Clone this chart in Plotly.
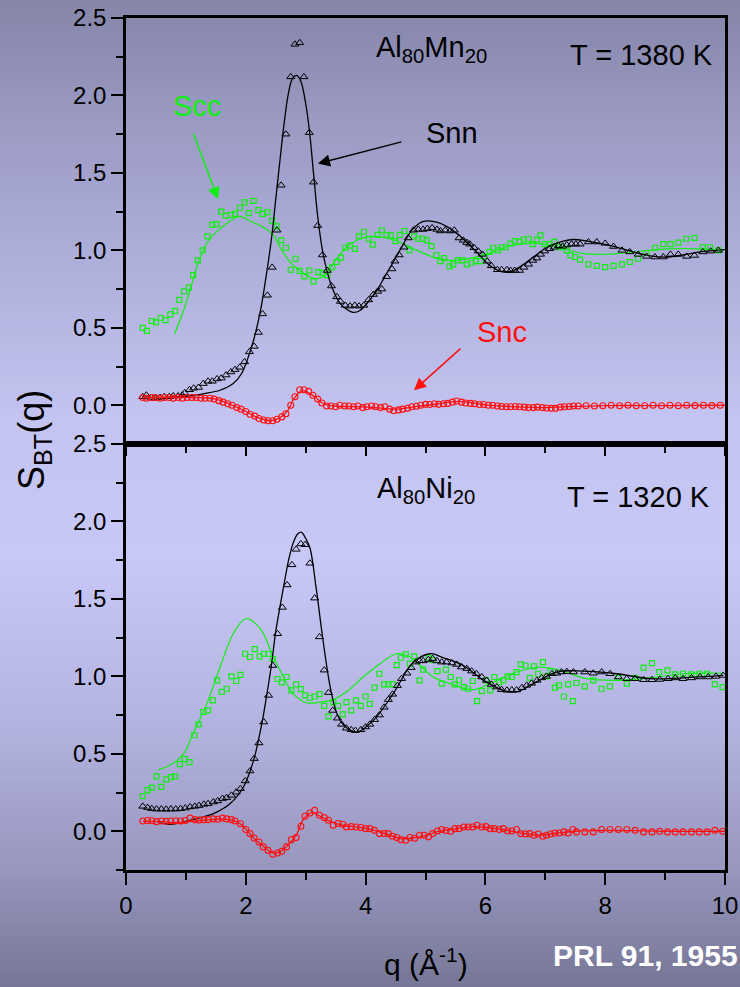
import plotly.graph_objects as go

# ---------------- data: top panel (Al80Mn20, T = 1380 K) ----------------
top_nn_q = [0.28,0.34,0.42,0.49,0.57,0.64,0.72,0.79,0.87,0.94,0.98,1.06,1.13,1.21,1.29,1.37,1.44,1.52,1.59,1.67,1.75,1.82,1.90,1.98,2.06,2.14,2.21,2.28,2.36,2.44,2.52,2.59,2.67,2.75,2.82,2.90,2.97,3.06,3.13,3.20,3.28,3.36,3.43,3.52,3.58,3.66,3.74,3.82,3.89,3.97,4.05,4.13,4.20,4.27,4.35,4.44,4.49,4.56,4.64,4.71,4.80,4.88,4.96,5.03,5.11,5.19,5.25,5.33,5.41,5.48,5.56,5.63,5.69,5.74,5.81,5.88,5.95,6.03,6.10,6.20,6.27,6.36,6.42,6.49,6.57,6.64,6.72,6.79,6.86,6.92,6.99,7.07,7.15,7.22,7.29,7.36,7.44,7.51,7.58,7.72,7.86,8.00,8.14,8.28,8.41,8.55,8.69,8.83,8.97,9.09,9.22,9.36,9.49,9.63,9.76,9.89]
top_nn_s = [0.055,0.065,0.05,0.045,0.05,0.055,0.055,0.06,0.06,0.065,0.08,0.10,0.11,0.115,0.14,0.155,0.155,0.17,0.175,0.195,0.215,0.23,0.245,0.28,0.345,0.38,0.47,0.59,0.71,0.89,1.13,1.42,1.75,2.12,2.33,2.34,2.12,1.76,1.44,1.16,0.97,0.87,0.77,0.70,0.67,0.645,0.64,0.645,0.64,0.645,0.68,0.715,0.735,0.75,0.83,0.88,0.93,0.97,1.02,1.08,1.13,1.135,1.135,1.14,1.145,1.135,1.125,1.13,1.125,1.13,1.08,1.065,1.05,1.04,1.017,0.995,0.974,0.93,0.90,0.875,0.875,0.875,0.87,0.87,0.87,0.89,0.91,0.935,0.95,0.974,0.995,1.01,1.02,1.03,1.026,1.035,1.04,1.04,1.04,1.054,1.054,1.045,1.025,1.0,0.99,0.974,0.961,0.957,0.957,0.974,0.974,0.961,0.967,0.99,0.995,1.0]
top_nn_line_q = [0.28,0.6,1.05,1.3,1.57,1.79,1.93,2.04,2.13,2.24,2.35,2.43,2.50,2.57,2.64,2.71,2.78,2.85,2.92,2.99,3.06,3.13,3.20,3.28,3.36,3.45,3.57,3.70,3.79,3.90,4.07,4.20,4.35,4.50,4.63,4.75,4.85,4.95,5.05,5.20,5.35,5.55,5.80,6.08,6.25,6.41,6.60,6.80,7.08,7.30,7.47,7.70,7.91,8.20,8.47,8.75,9.03,9.30,9.58,10.0]
top_nn_line_s = [0.05,0.05,0.06,0.075,0.097,0.14,0.205,0.31,0.42,0.60,0.86,1.08,1.33,1.58,1.82,2.01,2.11,2.13,2.09,1.97,1.78,1.50,1.22,1.0,0.86,0.75,0.66,0.615,0.60,0.61,0.68,0.75,0.85,0.95,1.04,1.12,1.16,1.185,1.19,1.18,1.155,1.10,1.01,0.90,0.865,0.86,0.90,0.957,1.03,1.06,1.07,1.06,1.045,1.02,0.99,0.965,0.957,0.97,0.99,1.005]

top_cc_q = [0.28,0.35,0.43,0.50,0.58,0.66,0.74,0.82,0.89,0.97,1.05,1.12,1.20,1.28,1.36,1.44,1.51,1.59,1.67,1.75,1.82,1.90,1.98,2.05,2.13,2.21,2.28,2.36,2.44,2.52,2.59,2.67,2.75,2.83,2.90,2.98,3.06,3.13,3.21,3.28,3.36,3.44,3.52,3.59,3.66,3.74,3.82,3.89,3.97,4.05,4.12,4.20,4.27,4.35,4.42,4.50,4.57,4.65,4.73,4.81,4.88,4.95,5.02,5.10,5.18,5.25,5.31,5.40,5.46,5.54,5.62,5.69,5.77,5.84,5.92,5.99,6.07,6.13,6.21,6.27,6.34,6.42,6.49,6.57,6.64,6.72,6.79,6.86,6.92,6.99,7.07,7.15,7.22,7.29,7.36,7.42,7.50,7.58,7.72,7.86,8.00,8.14,8.28,8.41,8.55,8.69,8.83,8.97,9.09,9.22,9.35,9.49,9.63,9.75,9.89]
top_cc_s = [0.50,0.48,0.544,0.535,0.565,0.55,0.587,0.61,0.68,0.735,0.76,0.84,0.935,1.0,1.09,1.165,1.17,1.25,1.224,1.23,1.235,1.275,1.31,1.24,1.32,1.26,1.235,1.245,1.19,1.155,1.065,1.017,0.875,0.946,0.867,0.832,0.87,0.80,0.86,0.855,0.84,0.89,0.925,0.953,1.017,1.03,1.01,1.09,1.12,1.075,1.037,1.10,1.13,1.10,1.097,1.06,1.10,1.125,1.0,1.09,1.075,1.075,1.065,1.028,0.968,0.93,0.95,0.897,0.91,0.935,0.935,0.91,0.92,0.93,0.93,0.961,0.99,1.017,1.0,1.02,1.02,1.043,1.06,1.055,1.07,1.075,1.04,1.07,1.097,1.04,1.04,1.055,1.02,1.02,1.0,0.968,0.957,0.94,0.91,0.90,0.892,0.90,0.91,0.925,0.946,0.983,1.017,1.04,1.04,1.05,1.075,1.08,1.02,1.02,1.0]
top_cc_line_q = [0.81,0.96,1.10,1.24,1.40,1.57,1.74,1.90,2.07,2.29,2.46,2.57,2.74,2.90,3.13,3.29,3.46,3.68,3.91,4.13,4.35,4.57,4.80,5.13,5.41,5.97,6.41,6.80,7.13,7.63,8.02,8.47,9.03,9.58,9.97]
top_cc_line_s = [0.46,0.61,0.785,0.957,1.075,1.14,1.19,1.22,1.19,1.15,1.10,1.02,0.925,0.87,0.82,0.83,0.914,1.02,1.075,1.09,1.08,1.054,1.01,0.957,0.935,0.968,1.03,1.047,1.03,0.98,0.975,0.99,1.01,1.01,1.0]

top_nc_q = [0.28,0.34,0.42,0.49,0.57,0.64,0.72,0.79,0.87,0.94,1.02,1.10,1.17,1.25,1.32,1.40,1.47,1.55,1.62,1.70,1.77,1.85,1.92,2.00,2.07,2.15,2.22,2.30,2.37,2.45,2.52,2.60,2.67,2.75,2.82,2.90,2.97,3.05,3.12,3.20,3.27,3.35,3.42,3.50,3.57,3.65,3.72,3.80,3.87,3.95,4.02,4.10,4.17,4.25,4.32,4.40,4.47,4.55,4.62,4.70,4.77,4.85,4.92,5.00,5.07,5.15,5.22,5.30,5.37,5.45,5.52,5.60,5.67,5.75,5.82,5.90,5.97,6.05,6.12,6.20,6.27,6.35,6.42,6.50,6.57,6.65,6.72,6.80,6.87,6.95,7.02,7.10,7.17,7.25,7.32,7.40,7.47,7.55,7.68,7.82,7.96,8.10,8.24,8.38,8.52,8.66,8.80,8.94,9.08,9.22,9.36,9.50,9.64,9.78,9.92]
top_nc_s = [0.05,0.045,0.05,0.05,0.045,0.05,0.05,0.045,0.05,0.045,0.05,0.05,0.05,0.045,0.045,0.045,0.04,0.03,0.02,0.01,0.0,-0.015,-0.025,-0.04,-0.058,-0.07,-0.085,-0.095,-0.10,-0.10,-0.09,-0.075,-0.055,0.0,0.055,0.10,0.10,0.09,0.065,0.04,0.015,-0.005,-0.005,-0.01,0.0,-0.005,-0.005,-0.01,-0.005,-0.015,-0.01,-0.005,-0.01,-0.015,-0.01,-0.025,-0.035,-0.03,-0.025,-0.02,-0.01,-0.006,0.0,0.006,0.005,0.01,0.006,0.01,0.012,0.02,0.028,0.02,0.015,0.012,0.01,0.005,0.005,0.0,0.0,-0.005,-0.008,-0.01,-0.01,-0.008,-0.01,-0.012,-0.015,-0.015,-0.012,-0.015,-0.018,-0.02,-0.02,-0.012,-0.01,-0.008,-0.005,-0.005,-0.003,-0.005,-0.003,0.0,-0.003,0.0,-0.003,-0.003,0.0,-0.003,0.0,-0.003,0.0,-0.002,0.0,-0.002,0.0]
top_nc_line_q = [0.28,1.2,1.5,1.75,2.0,2.2,2.4,2.55,2.7,2.8,2.92,3.0,3.15,3.3,3.5,4.0,4.5,4.8,5.2,5.55,6.0,6.5,7.0,7.3,8.0,9.0,10.0]
top_nc_line_s = [0.05,0.05,0.04,0.005,-0.04,-0.08,-0.10,-0.085,-0.035,0.04,0.09,0.09,0.055,0.01,-0.005,-0.01,-0.025,-0.01,0.008,0.025,0.003,-0.01,-0.015,-0.01,-0.002,-0.002,0.0]

# ---------------- data: bottom panel (Al80Ni20, T = 1320 K) ----------------
bot_nn_q = [0.28,0.36,0.43,0.51,0.59,0.67,0.75,0.83,0.91,0.99,1.07,1.15,1.22,1.30,1.37,1.46,1.53,1.61,1.68,1.76,1.84,1.91,1.99,2.07,2.14,2.22,2.30,2.38,2.45,2.53,2.61,2.69,2.77,2.84,2.92,2.99,3.07,3.15,3.23,3.31,3.38,3.45,3.53,3.60,3.68,3.76,3.83,3.92,4.00,4.07,4.15,4.23,4.31,4.38,4.45,4.53,4.60,4.69,4.76,4.84,4.90,4.96,5.05,5.12,5.19,5.27,5.35,5.44,5.52,5.60,5.69,5.77,5.85,5.94,6.02,6.10,6.19,6.27,6.36,6.44,6.52,6.61,6.69,6.77,6.86,6.94,7.02,7.11,7.19,7.27,7.36,7.47,7.66,7.80,7.94,8.08,8.22,8.36,8.50,8.64,8.78,8.91,9.05,9.17,9.30,9.44,9.58,9.72,9.85,9.97]
bot_nn_s = [0.161,0.153,0.146,0.143,0.143,0.142,0.143,0.143,0.146,0.15,0.157,0.161,0.166,0.174,0.178,0.189,0.196,0.211,0.217,0.232,0.252,0.275,0.325,0.389,0.469,0.57,0.705,0.877,1.07,1.275,1.445,1.59,1.72,1.82,1.855,1.85,1.73,1.505,1.255,1.04,0.895,0.78,0.73,0.69,0.665,0.655,0.65,0.655,0.673,0.69,0.72,0.75,0.80,0.85,0.884,0.94,0.985,1.02,1.056,1.092,1.10,1.10,1.108,1.114,1.10,1.092,1.092,1.086,1.077,1.06,1.05,1.034,1.017,0.996,0.974,0.948,0.931,0.914,0.91,0.912,0.912,0.927,0.942,0.955,0.974,0.99,1.0,1.017,1.02,1.028,1.03,1.028,1.028,1.02,1.028,1.017,0.996,0.985,0.985,0.978,0.978,0.98,0.985,0.99,0.985,0.99,0.996,0.996,1.0,1.006]
bot_nn_line_q = [0.57,0.73,0.96,1.18,1.46,1.74,1.96,2.13,2.27,2.35,2.43,2.50,2.58,2.65,2.72,2.80,2.87,2.93,3.00,3.07,3.18,3.29,3.41,3.52,3.65,3.85,4.13,4.46,4.80,5.08,5.30,5.63,5.97,6.30,6.52,6.80,7.19,7.63,8.19,8.75,9.30,9.97]
bot_nn_line_s = [0.054,0.045,0.06,0.082,0.114,0.179,0.286,0.458,0.70,0.88,1.08,1.29,1.47,1.62,1.76,1.87,1.92,1.93,1.89,1.83,1.555,1.23,0.93,0.76,0.68,0.64,0.716,0.888,1.092,1.146,1.12,1.07,0.974,0.91,0.90,0.953,1.028,1.034,1.017,0.985,0.99,1.006]

bot_cc_q = [0.28,0.36,0.43,0.51,0.59,0.67,0.75,0.82,0.90,0.98,1.06,1.14,1.21,1.29,1.37,1.45,1.52,1.60,1.68,1.76,1.84,1.91,1.99,2.07,2.15,2.23,2.30,2.38,2.45,2.53,2.60,2.68,2.76,2.84,2.92,2.99,3.07,3.15,3.23,3.31,3.38,3.46,3.54,3.62,3.68,3.76,3.84,3.92,4.00,4.07,4.15,4.23,4.31,4.38,4.45,4.52,4.59,4.67,4.74,4.81,4.90,4.96,5.05,5.12,5.20,5.27,5.34,5.42,5.49,5.56,5.64,5.71,5.79,5.86,5.94,6.01,6.08,6.15,6.23,6.30,6.37,6.44,6.52,6.59,6.67,6.74,6.81,6.88,6.96,7.02,7.09,7.16,7.23,7.31,7.38,7.46,7.52,7.66,7.80,7.94,8.08,8.22,8.36,8.50,8.64,8.78,8.90,9.04,9.17,9.30,9.44,9.57,9.70,9.83,9.96]
bot_cc_s = [0.226,0.265,0.282,0.355,0.286,0.335,0.35,0.355,0.434,0.466,0.447,0.62,0.69,0.77,0.78,0.845,0.974,0.90,0.92,1.0,0.97,1.01,1.146,1.125,1.176,1.129,1.146,1.146,1.112,0.983,0.961,0.996,0.91,0.948,0.918,0.877,0.862,0.87,0.885,0.81,0.742,0.834,0.81,0.755,0.834,0.78,0.845,0.81,0.87,0.823,0.927,1.017,0.948,0.948,0.95,1.073,1.12,1.142,1.082,1.129,0.974,1.043,1.12,1.105,1.034,0.953,1.043,0.996,0.948,0.975,0.931,0.92,0.97,0.84,0.905,0.974,0.91,0.996,0.963,0.975,1.0,0.996,1.028,1.077,1.07,0.99,1.065,1.017,1.092,1.0,1.034,0.927,0.942,0.87,0.948,0.84,0.957,0.935,0.974,0.92,0.935,0.99,0.953,0.99,1.056,1.086,1.028,1.039,1.013,1.017,1.013,1.017,1.017,0.948,0.931]
bot_cc_line_q = [0.54,0.73,0.96,1.12,1.35,1.57,1.79,2.0,2.24,2.46,2.63,2.79,3.02,3.24,3.46,3.68,3.96,4.24,4.52,4.74,4.91,5.13,5.41,5.80,6.13,6.52,6.91,7.25,7.69,8.19,8.75,9.30,9.97]
bot_cc_line_s = [0.398,0.426,0.50,0.63,0.824,1.06,1.275,1.372,1.308,1.125,0.996,0.888,0.828,0.834,0.85,0.90,0.996,1.082,1.146,1.125,1.07,0.996,0.953,0.914,0.963,1.028,1.06,1.039,0.985,0.974,0.99,1.017,1.02]

bot_nc_q = [0.28,0.36,0.43,0.51,0.59,0.67,0.75,0.83,0.91,0.99,1.07,1.15,1.22,1.30,1.37,1.46,1.53,1.61,1.68,1.76,1.82,1.91,2.00,2.07,2.14,2.22,2.29,2.37,2.45,2.53,2.60,2.68,2.76,2.84,2.92,2.99,3.07,3.15,3.23,3.31,3.38,3.46,3.54,3.62,3.68,3.76,3.84,3.92,4.00,4.07,4.15,4.23,4.31,4.38,4.45,4.52,4.59,4.67,4.74,4.82,4.90,4.98,5.05,5.12,5.20,5.27,5.34,5.42,5.49,5.56,5.64,5.71,5.79,5.86,5.94,6.01,6.08,6.15,6.23,6.30,6.37,6.44,6.52,6.59,6.67,6.74,6.81,6.88,6.96,7.02,7.09,7.16,7.23,7.31,7.38,7.46,7.52,7.66,7.80,7.94,8.08,8.22,8.36,8.50,8.64,8.78,8.91,9.04,9.17,9.30,9.44,9.57,9.70,9.83,9.96]
bot_nc_s = [0.066,0.07,0.068,0.062,0.066,0.064,0.066,0.068,0.066,0.07,0.085,0.075,0.072,0.075,0.075,0.08,0.078,0.085,0.08,0.075,0.066,0.049,0.011,-0.015,-0.043,-0.069,-0.101,-0.123,-0.148,-0.14,-0.129,-0.101,-0.054,-0.041,0.032,0.097,0.118,0.135,0.103,0.088,0.071,0.039,0.05,0.045,0.028,0.03,0.028,0.024,0.017,0.017,0.006,-0.015,-0.015,-0.015,-0.032,-0.04,-0.054,-0.058,-0.04,-0.045,-0.026,-0.026,-0.036,-0.015,0.002,0.011,0.005,0.0,0.017,0.017,0.028,0.028,0.028,0.039,0.028,0.03,0.017,0.017,0.011,0.017,0.002,0.002,0.011,-0.015,-0.018,-0.015,-0.026,-0.018,-0.032,-0.026,-0.018,-0.011,-0.011,-0.004,-0.011,0.011,-0.004,-0.004,-0.004,0.011,0.011,0.011,0.011,0.006,-0.004,-0.004,0.0,-0.004,-0.004,-0.004,-0.004,-0.004,-0.004,0.006,0.0]
bot_nc_line_q = [0.28,0.6,0.8,1.0,1.3,1.6,1.8,1.95,2.1,2.3,2.45,2.55,2.7,2.85,2.95,3.1,3.2,3.4,3.6,3.8,4.0,4.2,4.4,4.6,4.75,5.0,5.2,5.5,5.8,6.0,6.3,6.6,6.9,7.2,7.5,8.0,8.5,9.0,10.0]
bot_nc_line_s = [0.066,0.062,0.055,0.06,0.072,0.078,0.068,0.035,-0.03,-0.10,-0.14,-0.135,-0.09,-0.02,0.07,0.12,0.105,0.065,0.04,0.03,0.018,0.0,-0.025,-0.048,-0.045,-0.028,-0.003,0.015,0.03,0.025,0.01,-0.012,-0.025,-0.012,0.0,0.006,0.004,0.0,0.0]

x_ticks = [0, 2, 4, 6, 8, 10]
y_ticks = [0.0, 0.5, 1.0, 1.5, 2.0, 2.5]

# ---------------- styling ----------------
FONT = "Liberation Sans, Arial, sans-serif"
GREEN = "#11ee11"
RED = "#ff1010"
BLACK = "#000000"

fig = go.Figure()

def add_panel(xa, ya, nn_q, nn_s, nnl_q, nnl_s, cc_q, cc_s, ccl_q, ccl_s, nc_q, nc_s, ncl_q, ncl_s):
    fig.add_trace(go.Scatter(x=cc_q, y=cc_s, mode="markers", xaxis=xa, yaxis=ya,
                             marker=dict(symbol="square-open", size=5, color=GREEN, line=dict(width=1.2))))
    fig.add_trace(go.Scatter(x=ccl_q, y=ccl_s, mode="lines", xaxis=xa, yaxis=ya,
                             line=dict(color=GREEN, width=1.2, shape="spline")))
    fig.add_trace(go.Scatter(x=nn_q, y=nn_s, mode="markers", xaxis=xa, yaxis=ya,
                             marker=dict(symbol="triangle-up-open", size=7, color=BLACK, line=dict(width=1))))
    fig.add_trace(go.Scatter(x=nnl_q, y=nnl_s, mode="lines", xaxis=xa, yaxis=ya,
                             line=dict(color=BLACK, width=1.3, shape="spline")))
    fig.add_trace(go.Scatter(x=ncl_q, y=ncl_s, mode="lines", xaxis=xa, yaxis=ya,
                             line=dict(color=RED, width=1.3, shape="spline")))
    fig.add_trace(go.Scatter(x=nc_q, y=nc_s, mode="markers", xaxis=xa, yaxis=ya,
                             marker=dict(symbol="circle-open", size=6, color=RED, line=dict(width=1.1))))

add_panel("x2", "y2", top_nn_q, top_nn_s, top_nn_line_q, top_nn_line_s,
          top_cc_q, top_cc_s, top_cc_line_q, top_cc_line_s,
          top_nc_q, top_nc_s, top_nc_line_q, top_nc_line_s)
add_panel("x", "y", bot_nn_q, bot_nn_s, bot_nn_line_q, bot_nn_line_s,
          bot_cc_q, bot_cc_s, bot_cc_line_q, bot_cc_line_s,
          bot_nc_q, bot_nc_s, bot_nc_line_q, bot_nc_line_s)

axis_common = dict(showgrid=False, zeroline=False, showline=True, linecolor=BLACK,
                   linewidth=2.5, mirror=True, ticks="outside", ticklen=12, tickwidth=2,
                   tickcolor=BLACK, automargin=False,
                   tickfont=dict(family=FONT, size=24, color=BLACK))

xaxis_b = dict(axis_common, domain=[0, 1], anchor="y", range=[0, 10],
               tickvals=x_ticks, ticktext=[str(v) for v in x_ticks],
               minor=dict(dtick=1, tick0=0, ticklen=7, tickwidth=2, tickcolor=BLACK, ticks="outside"))
xaxis_t = dict(axis_common, domain=[0, 1], anchor="y2", range=[0, 10], showticklabels=False,
               tickvals=x_ticks, ticklen=9,
               minor=dict(dtick=1, tick0=0, ticklen=6, tickwidth=2, tickcolor=BLACK, ticks="outside"))
yaxis_b = dict(axis_common, domain=[0, 0.5], anchor="x", range=[-0.25, 2.5],
               tickvals=y_ticks, ticktext=["%.1f" % v for v in y_ticks],
               minor=dict(dtick=0.25, tick0=0, ticklen=7, tickwidth=2, tickcolor=BLACK, ticks="outside"))
yaxis_t = dict(axis_common, domain=[0.5, 1], anchor="x2", range=[-0.25, 2.5],
               tickvals=y_ticks, ticktext=["%.1f" % v for v in y_ticks],
               minor=dict(dtick=0.25, tick0=0, ticklen=7, tickwidth=2, tickcolor=BLACK, ticks="outside"))

# ---------------- background gradient (decoration) ----------------
W, H = 740, 987
ML, MR, MT, MB = 126, 15, 18, 117
PH = H - MT - MB
PW = W - ML - MR
stops = [(0, (134, 134, 170)), (200, (166, 166, 210)), (420, (196, 196, 242)),
         (560, (200, 200, 248)), (720, (180, 180, 226)), (870, (150, 150, 190)),
         (987, (118, 118, 150))]

def col_at(py):
    for (a, ca), (b, cb) in zip(stops[:-1], stops[1:]):
        if a <= py <= b:
            t = (py - a) / (b - a)
            return tuple(int(round(ca[i] + (cb[i] - ca[i]) * t)) for i in range(3))
    return stops[-1][1]

shapes = []
step = 6
for py in range(0, H, step):
    c = col_at(py + step / 2)
    y0 = (H - MB - (py + step + 1)) / PH
    y1 = (H - MB - py) / PH
    shapes.append(dict(type="rect", xref="paper", yref="paper", x0=-0.3, x1=1.1,
                       y0=y0, y1=y1, fillcolor="rgb(%d,%d,%d)" % c, line=dict(width=0),
                       layer="below"))

def px_to_paper_y(py):
    return (H - MB - py) / PH

def px_to_paper_x(px):
    return (px - ML) / PW

annotations = [
    dict(text="Al<sub>80</sub>Mn<sub>20</sub>", x=5.1, y=2.3, xref="x2", yref="y2",
         showarrow=False, font=dict(family=FONT, size=29, color=BLACK)),
    dict(text="T = 1380 K", x=8.6, y=2.26, xref="x2", yref="y2",
         showarrow=False, font=dict(family=FONT, size=29, color=BLACK)),
    dict(text="Scc", x=1.18, y=1.93, xref="x2", yref="y2",
         showarrow=False, font=dict(family=FONT, size=29, color=GREEN)),
    dict(text="Snn", x=5.45, y=1.76, xref="x2", yref="y2",
         showarrow=False, font=dict(family=FONT, size=29, color=BLACK)),
    dict(text="Snc", x=6.27, y=0.47, xref="x2", yref="y2",
         showarrow=False, font=dict(family=FONT, size=29, color=RED)),
    dict(text="Al<sub>80</sub>Ni<sub>20</sub>", x=5.0, y=2.2, xref="x", yref="y",
         showarrow=False, font=dict(family=FONT, size=29, color=BLACK)),
    dict(text="T = 1320 K", x=8.55, y=2.16, xref="x", yref="y",
         showarrow=False, font=dict(family=FONT, size=29, color=BLACK)),
    # arrows
    dict(text="", x=1.536, y=1.33, ax=1.118, ay=1.761, xref="x2", yref="y2",
         axref="x2", ayref="y2", showarrow=True, arrowhead=2, arrowsize=1.6,
         arrowwidth=1.5, arrowcolor=GREEN),
    dict(text="", x=3.205, y=1.56, ax=4.624, ay=1.703, xref="x2", yref="y2",
         axref="x2", ayref="y2", showarrow=True, arrowhead=2, arrowsize=1.6,
         arrowwidth=1.5, arrowcolor=BLACK),
    dict(text="", x=4.808, y=0.097, ax=5.609, ay=0.374, xref="x2", yref="y2",
         axref="x2", ayref="y2", showarrow=True, arrowhead=2, arrowsize=1.6,
         arrowwidth=1.5, arrowcolor=RED),
    # axis titles
    dict(text="S<sub>BT</sub>(q)", x=px_to_paper_x(34), y=px_to_paper_y(440),
         xref="paper", yref="paper", xanchor="center", yanchor="middle",
         textangle=-90, showarrow=False,
         font=dict(family=FONT, size=36, color=BLACK)),
    dict(text="q (Å<sup>-1</sup>)", x=px_to_paper_x(426), y=px_to_paper_y(962),
         xref="paper", yref="paper", xanchor="center", yanchor="middle", showarrow=False,
         font=dict(family=FONT, size=30, color=BLACK)),
    dict(text="<b>PRL 91, 1955</b>", x=px_to_paper_x(551), y=px_to_paper_y(955),
         xref="paper", yref="paper", xanchor="left", yanchor="middle", showarrow=False,
         font=dict(family=FONT, size=30, color="white")),
]

fig.update_layout(
    width=W, height=H,
    margin=dict(l=ML, r=MR, t=MT, b=MB, autoexpand=False),
    paper_bgcolor="rgb(180,180,225)",
    plot_bgcolor="rgba(0,0,0,0)",
    showlegend=False,
    xaxis=xaxis_b, xaxis2=xaxis_t, yaxis=yaxis_b, yaxis2=yaxis_t,
    shapes=shapes, annotations=annotations,
    font=dict(family=FONT),
)

fig.write_html("out.html")
